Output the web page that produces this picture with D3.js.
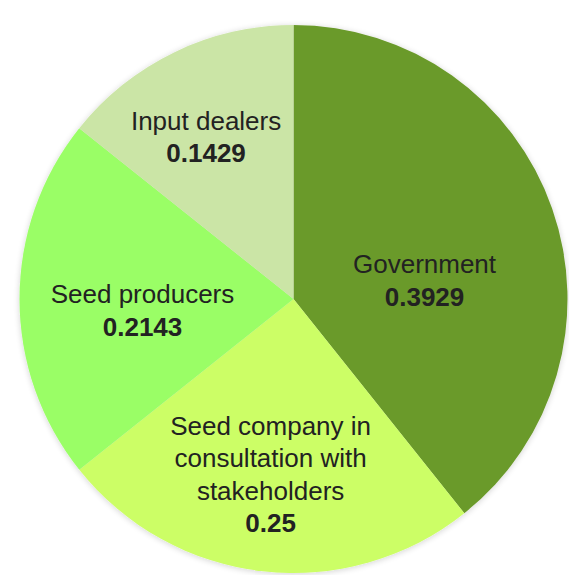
<!DOCTYPE html>
<html>
<head>
<meta charset="utf-8">
<script src="https://cdn.jsdelivr.net/npm/d3@7"></script>
<style>
  html, body { margin: 0; padding: 0; background: #ffffff; }
  svg { display: block; }
  text { font-family: "Liberation Sans", Arial, Helvetica, sans-serif; fill: #222222; }
</style>
</head>
<body>
<svg id="chart" width="569" height="575"></svg>
<script>
// Share of decision-making by actor
const categories = ["Government", "Seed company in consultation with stakeholders", "Seed producers", "Input dealers"];
const values = [0.3929, 0.25, 0.2143, 0.1429];
const valueLabels = ["0.3929", "0.25", "0.2143", "0.1429"];
// label lines for each slice (wrapped names)
const nameLines = [
  ["Government"],
  ["Seed company in", "consultation with", "stakeholders"],
  ["Seed producers"],
  ["Input dealers"]
];
const colors = ["#6b9a2b", "#ccfe66", "#9afe66", "#cbe5a6"];

// layout
const cx = 293.5, cy = 299, radius = 274;
const labelRadius = 160;
const labelNudge = [[-20, 34], [-5, 16], [9, 11], [-18, -18]];
const fontSize = 26, lineHeight = 32.5;

const svg = d3.select("#chart");

// soft shadow around the pie
const defs = svg.append("defs");
const f = defs.append("filter").attr("id", "soft")
  .attr("x", "-10%").attr("y", "-10%").attr("width", "120%").attr("height", "120%");
f.append("feGaussianBlur").attr("in", "SourceAlpha").attr("stdDeviation", 3).attr("result", "b");
f.append("feOffset").attr("in", "b").attr("dx", 0).attr("dy", 1).attr("result", "o");
f.append("feComponentTransfer").attr("in", "o").attr("result", "s")
  .append("feFuncA").attr("type", "linear").attr("slope", 0.18);
const m = f.append("feMerge");
m.append("feMergeNode").attr("in", "s");
m.append("feMergeNode").attr("in", "SourceGraphic");

const g = svg.append("g").attr("transform", `translate(${cx},${cy})`);

const pie = d3.pie().sort(null).value(d => d)(values);
const arc = d3.arc().innerRadius(0).outerRadius(radius);
const labelArc = d3.arc().innerRadius(labelRadius).outerRadius(labelRadius);

g.append("g").attr("filter", "url(#soft)")
  .selectAll("path")
  .data(pie)
  .join("path")
  .attr("d", arc)
  .attr("fill", (d, i) => colors[i]);

// labels: name lines then the bold value
const labels = g.selectAll("g.label")
  .data(pie)
  .join("g")
  .attr("class", "label")
  .attr("transform", (d, i) => {
    const [x, y] = labelArc.centroid(d);
    return `translate(${x + labelNudge[i][0]},${y + labelNudge[i][1]})`;
  });

labels.each(function(d, i) {
  const lines = nameLines[i].map(t => ({ t, bold: false }))
    .concat([{ t: valueLabels[i], bold: true }]);
  const n = lines.length;
  // block centred vertically on the anchor (cap top of first line to last baseline)
  const capH = fontSize * 0.716;
  const top = -((n - 1) * lineHeight + capH) / 2;
  d3.select(this).selectAll("text")
    .data(lines)
    .join("text")
    .attr("text-anchor", "middle")
    .attr("x", 0)
    .attr("y", (l, k) => top + capH + k * lineHeight)
    .attr("font-size", fontSize)
    .attr("font-weight", l => l.bold ? "bold" : "normal")
    .text(l => l.t);
});
</script>
</body>
</html>
